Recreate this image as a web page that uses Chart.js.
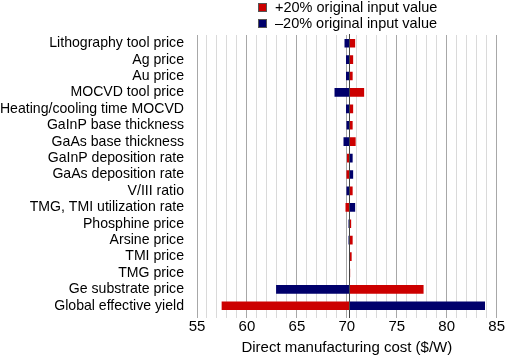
<!DOCTYPE html>
<html>
<head>
<meta charset="utf-8">
<script src="https://cdn.jsdelivr.net/npm/chart.js@4"></script>
<style>
  body { margin: 0; background: #fff; font-family: "Liberation Sans", Arial, sans-serif; }
  #wrap { position: relative; width: 505px; height: 357px; }
  #legend { position: absolute; left: 258px; top: -1px; font-size: 14.5px; color: #000; line-height: 16px; }
  #legend div { display: flex; align-items: center; height: 16px; }
  #legend span.box { display: inline-block; width: 9px; height: 9px; margin-right: 8px; border: 1px solid #555; box-sizing: border-box; }
</style>
</head>
<body>
<div id="wrap">
  <canvas id="tornado" width="505" height="357"></canvas>
  <div id="legend">
    <div><span class="box" style="background:#cc0000"></span>+20% original input value</div>
    <div><span class="box" style="background:#00006b"></span>–20% original input value</div>
  </div>
</div>
<script>
var parameters = ['Lithography tool price', 'Ag price', 'Au price', 'MOCVD tool price',
    'Heating/cooling time MOCVD', 'GaInP base thickness', 'GaAs base thickness',
    'GaInP deposition rate', 'GaAs deposition rate', 'V/III ratio', 'TMG, TMI utilization rate',
    'Phosphine price', 'Arsine price', 'TMI price', 'TMG price', 'Ge substrate price',
    'Global effective yield'];
var baseline = 70.25;
var plus20 = [70.8, 70.6, 70.55, 71.7, 70.6, 70.55, 70.85, 70.05, 70.0, 70.55, 69.9, 70.4, 70.55, 70.45, 70.3, 77.65, 57.5];
var minus20 = [69.8, 69.95, 69.95, 68.8, 69.95, 70.0, 69.7, 70.55, 70.6, 70.0, 70.8, 70.2, 70.2, 70.25, 70.25, 62.95, 83.8];
var xTicks = [55, 60, 65, 70, 75, 80, 85];

function toRange(vals) {
    return vals.map(function (v) { return [baseline, v]; });
}

function gridColor(c) {
    return c.tick && c.tick.value % 5 === 0 ? '#a8a8a8' : '#dadada';
}

var baseLine = {
    id: 'baseLine',
    afterDatasetsDraw: function (chart) {
        var ctx = chart.ctx, x = chart.scales.x.getPixelForValue(baseline);
        ctx.save();
        ctx.strokeStyle = '#444';
        ctx.lineWidth = 1;
        ctx.beginPath();
        ctx.moveTo(Math.round(x) + 0.5, chart.chartArea.top - 1);
        ctx.lineTo(Math.round(x) + 0.5, chart.chartArea.bottom + 4);
        ctx.stroke();
        ctx.restore();
    }
};

var ctx = document.getElementById('tornado').getContext('2d');
var chart = new Chart(ctx, {
    type: 'bar',
    data: {
        labels: parameters,
        datasets: [{
            label: '+20% original input value',
            data: toRange(plus20),
            backgroundColor: '#cc0000',
            grouped: false,
            barThickness: 8
        }, {
            label: '–20% original input value',
            data: toRange(minus20),
            backgroundColor: '#00006b',
            grouped: false,
            barThickness: 8
        }]
    },
    options: {
        indexAxis: 'y',
        responsive: false,
        animation: false,
        layout: { padding: { top: 35, right: 0, bottom: 0, left: 0 } },
        plugins: { legend: { display: false }, tooltip: { enabled: false } },
        scales: {
            x: {
                min: 55,
                max: 85,
                ticks: {
                    stepSize: 1,
                    autoSkip: false,
                    maxRotation: 0,
                    color: '#000',
                    font: { family: 'Liberation Sans', size: 15 },
                    padding: 0,
                    callback: function (v) { return xTicks.indexOf(v) >= 0 ? v : ''; }
                },
                grid: {
                    color: gridColor,
                    tickLength: 4,
                    tickColor: gridColor
                },
                border: { display: false },
                title: {
                    display: true,
                    text: 'Direct manufacturing cost ($/W)',
                    color: '#000',
                    font: { family: 'Liberation Sans', size: 15 },
                    padding: { top: 3, bottom: 0 }
                }
            },
            y: {
                ticks: {
                    autoSkip: false,
                    color: '#000',
                    font: { family: 'Liberation Sans', size: 14.1 },
                    padding: 5
                },
                grid: { display: false },
                border: { display: false },
                afterFit: function (scale) { scale.width = 197; }
            }
        }
    },
    plugins: [baseLine]
});
</script>
</body>
</html>
